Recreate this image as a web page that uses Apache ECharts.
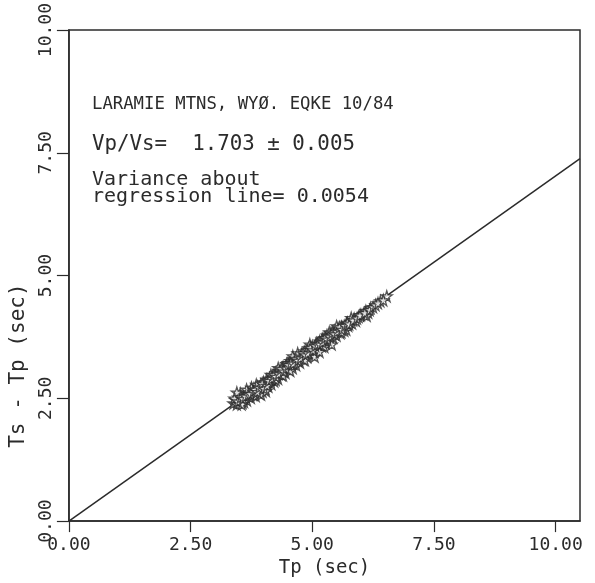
<!DOCTYPE html>
<html>
<head>
<meta charset="utf-8">
<script src="https://cdn.jsdelivr.net/npm/echarts@6/dist/echarts.min.js"></script>
<style>html,body{margin:0;padding:0;background:#fff}#c{width:595px;height:583px}</style>
</head>
<body>
<div id="c"></div>
<script>
// Tick labels
const xTicks = [0, 2.5, 5, 7.5, 10];
const yTicks = [0, 2.5, 5, 7.5, 10];
const tp = [3.38,3.42,3.45,3.48,3.50,3.52,3.55,3.57,3.60,3.62,3.64,3.66,3.68,3.70,3.72,3.74,3.76,3.78,3.80,3.82,3.84,3.86,3.88,3.90,3.92,3.94,3.96,3.98,4.00,4.02,4.04,4.06,4.08,4.10,4.12,4.14,4.16,4.18,4.20,4.22,4.25,4.27,4.30,4.32,4.35,4.37,4.40,4.42,4.45,4.47,4.50,4.52,4.55,4.57,4.60,4.62,4.65,4.67,4.70,4.72,4.75,4.78,4.80,4.82,4.85,4.88,4.90,4.92,4.95,4.98,5.00,5.02,5.05,5.08,5.10,5.12,5.15,5.18,5.20,5.22,5.25,5.28,5.30,5.33,5.35,5.38,5.40,5.43,5.45,5.48,5.50,5.53,5.55,5.58,5.60,5.63,5.66,5.70,5.74,5.78,5.82,5.86,5.90,5.95,6.00,6.05,6.10,6.15,6.20,6.40,
  3.45,3.60,3.75,3.95,4.15,4.40,4.60,4.85,5.05,5.25,5.50,5.40,5.70,4.30,3.85,4.05,4.70,4.95,5.15,5.35,5.60,5.80,6.12,4.50,4.25,3.65,3.55,4.55,4.90,5.20,
  3.40,3.47,3.53,3.58,3.63,3.69,3.73,3.79,3.83,3.87,3.91,3.97,4.01,4.07,4.11,4.17,4.21,4.26,4.31,4.36,4.41,4.46,4.51,4.56,4.61,4.66,4.71,4.76,4.81,4.86,4.91,4.96,5.01,5.06,5.11,5.16,5.21,5.26,5.31,5.36,5.41,5.46,5.51,5.56,5.61,5.67,5.72,5.76,5.84,5.92,5.98,6.08,6.18,6.25,6.30,6.35,6.53,6.46];
const tsMinusTp = [2.40,2.47,2.38,2.52,2.44,2.60,2.47,2.41,2.55,2.50,2.58,2.46,2.62,2.55,2.63,2.51,2.66,2.58,2.70,2.62,2.55,2.69,2.74,2.66,2.60,2.78,2.72,2.64,2.83,2.76,2.70,2.88,2.81,2.74,2.90,2.86,2.79,2.96,2.92,2.85,3.02,2.97,2.90,3.06,3.03,2.98,3.14,3.08,3.02,3.20,3.15,3.09,3.26,3.18,3.12,3.30,3.25,3.18,3.35,3.30,3.23,3.40,3.36,3.29,3.46,3.40,3.34,3.52,3.47,3.40,3.56,3.51,3.45,3.62,3.58,3.50,3.66,3.63,3.56,3.72,3.68,3.62,3.78,3.73,3.67,3.82,3.79,3.74,3.88,3.84,3.78,3.92,3.89,3.83,3.96,3.93,3.88,4.02,3.98,4.06,4.03,4.12,4.08,4.16,4.20,4.22,4.28,4.25,4.34,4.48,
  2.62,2.43,2.72,2.58,2.98,2.97,3.36,3.28,3.35,3.55,3.97,3.60,3.90,3.12,2.78,2.65,3.42,3.60,3.45,3.85,3.85,4.14,4.18,3.22,2.88,2.68,2.38,3.06,3.48,3.70,
  2.50,2.44,2.52,2.49,2.54,2.58,2.59,2.64,2.68,2.63,2.72,2.80,2.70,2.76,2.86,2.90,2.98,2.94,3.00,3.10,3.05,3.11,3.18,3.22,3.21,3.31,3.27,3.32,3.42,3.38,3.42,3.53,3.48,3.57,3.60,3.60,3.64,3.73,3.70,3.76,3.84,3.81,3.86,3.95,3.90,3.98,4.04,4.01,4.09,4.13,4.19,4.24,4.30,4.36,4.40,4.44,4.58,4.50];
// Regression line (Vp/Vs = 1.703 -> slope 0.703)
const lineTp = [0, 10.5];
const lineTs = [0, 7.38];

const pts = tp.map((x, i) => [x, tsMinusTp[i]]);
const reg = lineTp.map((x, i) => [x, lineTs[i]]);
const star = 'path://M50,0 L61,35 L98,35 L68,57 L79,91 L50,70 L21,91 L32,57 L2,35 L39,35 Z';
const ink = '#2b2b2b';
const font = 'DejaVu Sans Mono';

const chart = echarts.init(document.getElementById('c'), null, {renderer: 'canvas'});
chart.setOption({
  animation: false,
  backgroundColor: '#fff',
  grid: {left: 68, right: 15, top: 22, bottom: 52, show: true, borderColor: ink, borderWidth: 1.5, backgroundColor: 'transparent'},
  xAxis: {
    type: 'value', min: 0, max: 10.5, interval: 2.5,
    name: 'Tp (sec)', nameLocation: 'middle', nameGap: 37,
    nameTextStyle: {fontFamily: font, fontSize: 19, color: ink},
    axisLine: {lineStyle: {color: ink, width: 1.5}},
    axisTick: {show: true, length: 11, inside: false, customValues: xTicks, lineStyle: {color: ink, width: 1.2}},
    axisLabel: {customValues: xTicks, fontFamily: font, fontSize: 18, color: ink, margin: 15, formatter: v => v.toFixed(2)},
    splitLine: {show: false}
  },
  yAxis: {
    type: 'value', min: 0, max: 10, interval: 2.5,
    name: 'Ts - Tp (sec)', nameLocation: 'middle', nameGap: 33,
    nameTextStyle: {fontFamily: font, fontSize: 21, color: ink, padding: [0, 180, 0, 0]},
    axisLine: {lineStyle: {color: ink, width: 1.5}},
    axisTick: {show: true, length: 12, inside: false, customValues: yTicks, lineStyle: {color: ink, width: 1.2}},
    axisLabel: {customValues: yTicks, rotate: 90, fontFamily: font, fontSize: 18, color: ink, margin: 14, formatter: v => v.toFixed(2)},
    splitLine: {show: false}
  },
  series: [
    {type: 'line', data: reg, symbol: 'none', lineStyle: {color: ink, width: 1.5}, z: 2},
    {type: 'scatter', data: pts, symbol: star, symbolSize: 11,
     itemStyle: {color: '#fff', borderColor: ink, borderWidth: 1.3}, z: 3}
  ],
  graphic: [
    {type: 'text', x: 92, y: 105, style: {text: 'LARAMIE MTNS, WYØ. EQKE 10/84', fontFamily: font, fontSize: 17.3, fill: ink, verticalAlign: 'middle'}},
    {type: 'text', x: 92, y: 145, style: {text: 'Vp/Vs=  1.703 ± 0.005', fontFamily: font, fontSize: 20.8, fill: ink, verticalAlign: 'middle'}},
    {type: 'text', x: 92, y: 180, style: {text: 'Variance about', fontFamily: font, fontSize: 20, fill: ink, verticalAlign: 'middle'}},
    {type: 'text', x: 92, y: 197, style: {text: 'regression line= 0.0054', fontFamily: font, fontSize: 20, fill: ink, verticalAlign: 'middle'}}
  ]
});
</script>
</body>
</html>
